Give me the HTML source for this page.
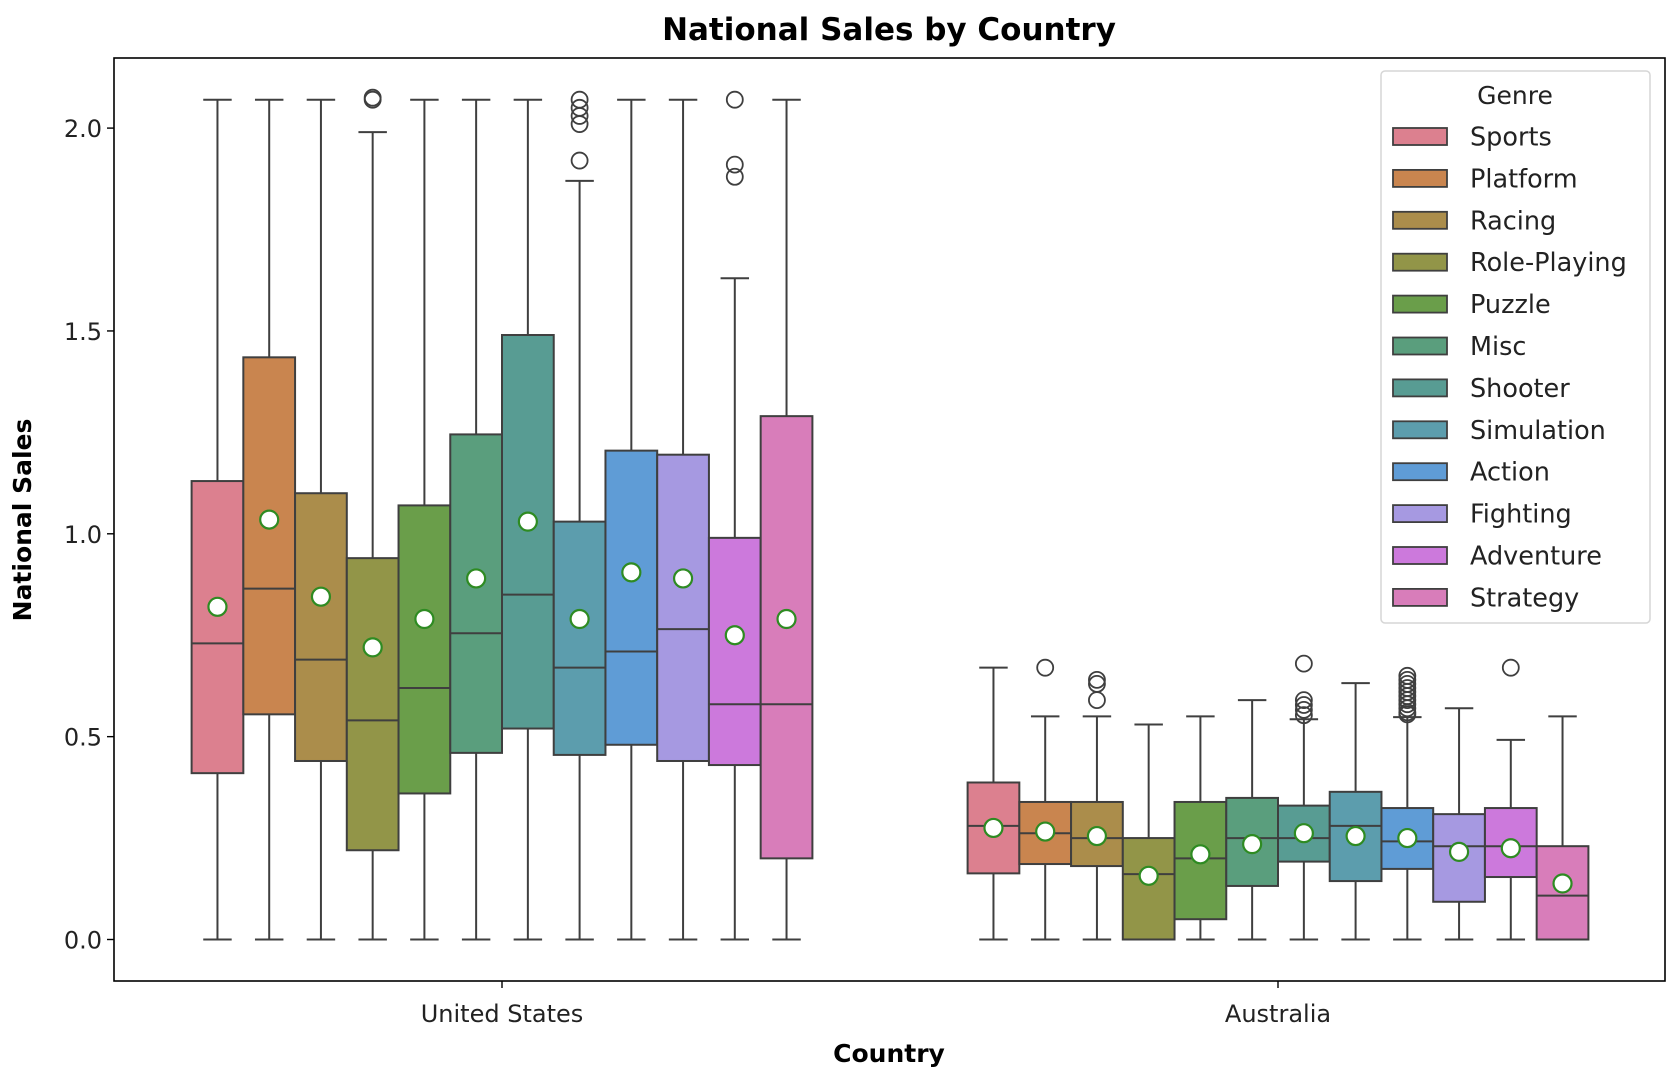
<!DOCTYPE html>
<html><head><meta charset="utf-8"><style>
html,body{margin:0;padding:0;background:#fff;}
svg{display:block;font-family:"DejaVu Sans","Liberation Sans",sans-serif;}
</style></head><body>
<svg id="chart" width="1672" height="1076" viewBox="0 0 1672 1076" xmlns="http://www.w3.org/2000/svg">
<text x="889" y="40" text-anchor="middle" font-size="31" font-weight="bold" fill="#000">National Sales by Country</text>
<g id="plot"></g>
</svg>
<script>
const countries = ["United States", "Australia"];
const genres = ["Sports","Platform","Racing","Role-Playing","Puzzle","Misc","Shooter","Simulation","Action","Fighting","Adventure","Strategy"];
const colors = ["#dc808f","#c9854f","#ab8d4b","#929548","#6a9e4a","#5a9e7d","#589c93","#5c9dad","#5f9cd6","#a699e1","#cc79dc","#d87dba"];
const yTicks = [0.0, 0.5, 1.0, 1.5, 2.0];
// [whiskerLow, q1, median, q3, whiskerHigh, mean]
const usStats = [
 [0,0.41,0.73,1.13,2.07,0.82],
 [0,0.555,0.865,1.435,2.07,1.035],
 [0,0.44,0.69,1.10,2.07,0.845],
 [0,0.22,0.54,0.94,1.99,0.72],
 [0,0.36,0.62,1.07,2.07,0.79],
 [0,0.46,0.755,1.245,2.07,0.89],
 [0,0.52,0.85,1.49,2.07,1.03],
 [0,0.455,0.67,1.03,1.87,0.79],
 [0,0.48,0.71,1.205,2.07,0.905],
 [0,0.44,0.765,1.195,2.07,0.89],
 [0,0.43,0.58,0.99,1.63,0.75],
 [0,0.20,0.58,1.29,2.07,0.79]
];
const usOutliers = [[],[],[],[2.07,2.075],[],[],[],[1.92,2.01,2.03,2.05,2.07],[],[],[1.88,1.91,2.07],[]];
const auStats = [
 [0,0.163,0.28,0.387,0.67,0.275],
 [0,0.186,0.262,0.339,0.55,0.266],
 [0,0.181,0.25,0.339,0.55,0.255],
 [0,0,0.161,0.25,0.53,0.157],
 [0,0.05,0.20,0.339,0.55,0.21],
 [0,0.132,0.25,0.349,0.59,0.235],
 [0,0.192,0.25,0.33,0.543,0.262],
 [0,0.144,0.28,0.364,0.632,0.255],
 [0,0.174,0.242,0.324,0.548,0.25],
 [0,0.093,0.23,0.309,0.57,0.216],
 [0,0.154,0.23,0.324,0.492,0.225],
 [0,0,0.108,0.23,0.55,0.138]
];
const auOutliers = [[],[0.67],[0.64,0.63,0.59],[],[],[],[0.68,0.59,0.578,0.566,0.553],[],[0.65,0.64,0.63,0.62,0.61,0.60,0.59,0.58,0.57,0.56,0.555],[],[0.67],[]];

const NS="http://www.w3.org/2000/svg";
const L=114,R=1665,T=58,B=981;
const y = v => 939.5 - v*405.7;
const x = c => 502 + c*776;
const slot = 0.8/genres.length*776;
const g=document.getElementById('plot');
function mk(tag,attrs,parent){const e=document.createElementNS(NS,tag);for(const k in attrs)e.setAttribute(k,attrs[k]);(parent||g).appendChild(e);return e;}
const LC="#3f3f3f";
let fr=mk('rect',{x:L,y:T,width:R-L,height:B-T,fill:'none',stroke:'#000','stroke-width':1.6});


yTicks.forEach(t=>{
 let ln=mk('line',{x1:L-7,x2:L,y1:y(t),y2:y(t),stroke:'#000','stroke-width':1.4});
 
 
 let tx=mk('text',{x:L-12,y:y(t)+9,'text-anchor':'end','font-size':24,fill:'#222'});
 tx.textContent=t.toFixed(1);
 
 
});
countries.forEach((c,i)=>{
 let ln=mk('line',{x1:x(i),x2:x(i),y1:B,y2:B+7,stroke:'#000','stroke-width':1.4});
 
 
 let tx=mk('text',{x:x(i),y:1022,'text-anchor':'middle','font-size':24,fill:'#222'});
 tx.textContent=c;
 
 
});
let xl=mk('text',{x:889,y:1062,'text-anchor':'middle','font-size':25,'font-weight':'bold',fill:'#000'});
xl.textContent='Country';


let yl=mk('text',{x:0,y:0,'text-anchor':'middle','font-size':25,'font-weight':'bold',fill:'#000',transform:'translate(31,520) rotate(-90)'});
yl.textContent='National Sales';



function drawBoxes(stats,outs,ci){
 stats.forEach((s,j)=>{
  const cx = x(ci) - 0.4*776 + slot*(j+0.5);
  const w = slot, cap = slot*0.55;
  const grp=mk('g',{});
  
  
  mk('line',{x1:cx,x2:cx,y1:y(s[0]),y2:y(s[1]),stroke:LC,'stroke-width':2},grp);
  mk('line',{x1:cx,x2:cx,y1:y(s[3]),y2:y(s[4]),stroke:LC,'stroke-width':2},grp);
  mk('line',{x1:cx-cap/2,x2:cx+cap/2,y1:y(s[0]),y2:y(s[0]),stroke:LC,'stroke-width':2},grp);
  mk('line',{x1:cx-cap/2,x2:cx+cap/2,y1:y(s[4]),y2:y(s[4]),stroke:LC,'stroke-width':2},grp);
  mk('rect',{x:cx-w/2,y:y(s[3]),width:w,height:y(s[1])-y(s[3]),fill:colors[j],stroke:LC,'stroke-width':2},grp);
  mk('line',{x1:cx-w/2,x2:cx+w/2,y1:y(s[2]),y2:y(s[2]),stroke:LC,'stroke-width':2},grp);
  outs[j].forEach(o=>mk('circle',{cx:cx,cy:y(o),r:8,fill:'none',stroke:LC,'stroke-width':1.8},grp));
  mk('circle',{cx:cx,cy:y(s[5]),r:9,fill:'#fff',stroke:'#2e8b22','stroke-width':2.2},grp);
 });
}
drawBoxes(usStats,usOutliers,0);
drawBoxes(auStats,auOutliers,1);

const lg=mk('g',{});


mk('rect',{x:1381,y:71,width:269,height:552,rx:4,fill:'#fff','fill-opacity':0.85,stroke:'#d6d6d6','stroke-width':1.5},lg);
let lt=mk('text',{x:1515,y:104,'text-anchor':'middle','font-size':25,fill:'#222'},lg);
lt.textContent='Genre';
genres.forEach((gn,j)=>{
 const cy=136.5+j*41.9;
 const e=mk('g',{},lg);
 
 
 mk('rect',{x:1393,y:cy-8.5,width:54,height:17,fill:colors[j],stroke:LC,'stroke-width':1.8},e);
 const t=mk('text',{x:1470,y:cy+9,'font-size':25.5,fill:'#222'},e);
 t.textContent=gn;
});
</script>
</body></html>
